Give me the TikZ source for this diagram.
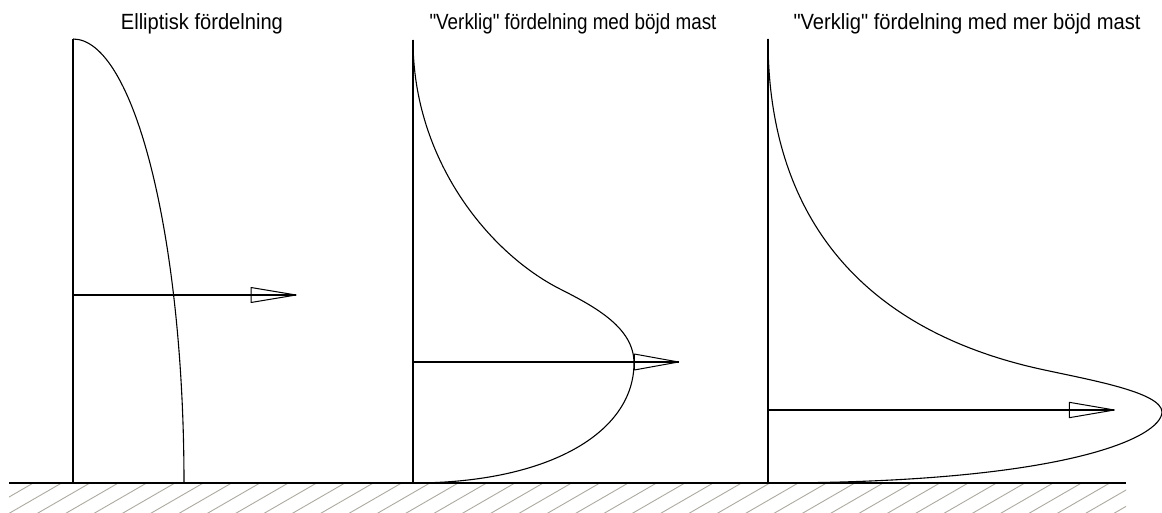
\documentclass[tikz,border=0pt]{standalone}
\usepackage{fontspec}
\setmainfont{Liberation Sans}[Ligatures=TeXOff]
\definecolor{hatchgrey}{RGB}{172,170,160}
\begin{document}
\begin{tikzpicture}[x=1pt,y=-1pt,line join=round,
  mast/.style={line width=1.2pt},
  curve/.style={line width=1.1pt},
  force/.style={line width=1.1pt},
  head/.style={line width=1.0pt},
  groundline/.style={line width=1.3pt},
  hatch/.style={line width=0.9pt,hatchgrey},
  title/.style={anchor=base west,inner sep=0pt,font=\fontsize{22}{24}\selectfont}]
\useasboundingbox (0,0) rectangle (1162,513);

% titles
\node[title] (t1) at (120.7,29.3) {\resizebox{162pt}{\height}{Elliptisk fördelning}};
\node[title] (t2) at (429.3,29.3) {\resizebox{287pt}{\height}{"Verklig" fördelning med böjd mast}};
\node[title] (t3) at (793.3,29.3) {\resizebox{347pt}{\height}{"Verklig" fördelning med mer böjd mast}};

% hatching of the ground
\begin{scope}
  \clip (9,483) rectangle (1126,514);
  \foreach \k in {0,...,40}
    \draw[hatch] ({33.3+28.33*\k},483) -- ({33.3+28.33*\k-55.4},515);
\end{scope}
\coordinate (gl) at (9,483);
\coordinate (gr) at (1126,483);
\draw[groundline] (gl) -- (gr);

% panel 1
\coordinate (m1t) at (73,39);
\coordinate (m1b) at (73,483);
\coordinate (e1b) at (184,483);
\draw[mast] (m1t) -- (m1b);
\draw[curve] (m1t) .. controls (134.3,39) and (184,237.8) .. (e1b);
\coordinate (f1s) at (73,295);
\coordinate (f1t) at (296,295);
\draw[force] (f1s) -- (f1t);
\draw[head] (251,287.5) -- (f1t) -- (251,302.5) -- cycle;

% panel 2
\coordinate (m2t) at (413,40);
\coordinate (m2b) at (413,483);
\coordinate (c2a) at (560,289);
\coordinate (c2b) at (634,363);
\draw[mast] (m2t) -- (m2b);
\draw[curve] (m2t) .. controls (413,160) and (489,253) .. (c2a)
  .. controls (595.6,307) and (634,328) .. (c2b)
  .. controls (634,433) and (548,483) .. (m2b);
\coordinate (f2s) at (413,362);
\coordinate (f2t) at (678.5,362);
\draw[force] (f2s) -- (f2t);
\draw[head] (634.3,354) -- (f2t) -- (634.3,370) -- cycle;

% panel 3
\coordinate (m3t) at (768,39);
\coordinate (m3b) at (768,483);
\coordinate (c3a) at (1040,369);
\coordinate (c3b) at (1162,412);
\draw[mast] (m3t) -- (m3b);
\draw[curve] (m3t) .. controls (768,219) and (864,330) .. (c3a)
  .. controls (1088.8,379.75) and (1161.5,392) .. (c3b)
  .. controls (1161.5,437) and (1068,483) .. (m3b);
\coordinate (f3s) at (768,410);
\coordinate (f3t) at (1114.3,410);
\draw[force] (f3s) -- (f3t);
\draw[head] (1069.3,402.3) -- (f3t) -- (1069.3,417.7) -- cycle;
\end{tikzpicture}
\end{document}
